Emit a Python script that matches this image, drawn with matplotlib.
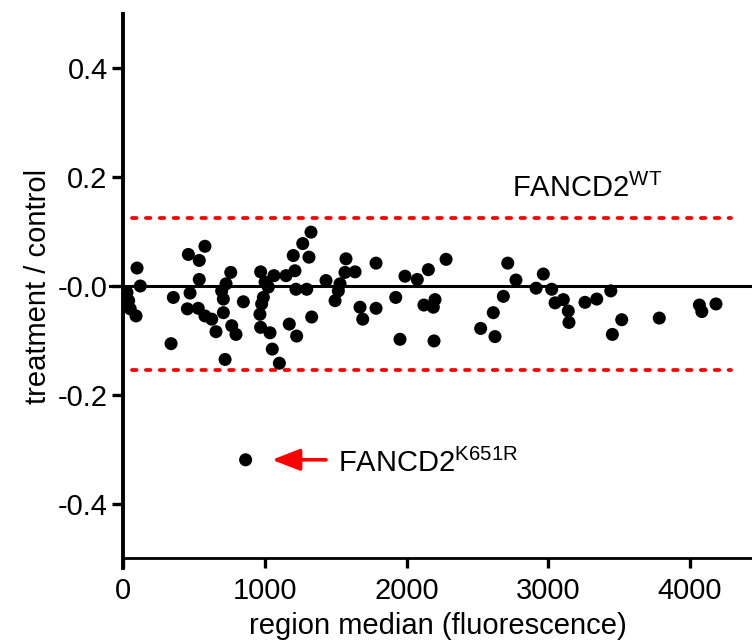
import matplotlib
matplotlib.use("Agg")
import matplotlib.pyplot as plt
from matplotlib.ticker import FixedLocator, FixedFormatter

plt.rcParams['font.family'] = ['Liberation Sans', 'DejaVu Sans']
plt.rcParams['mathtext.fontset'] = 'custom'
plt.rcParams['mathtext.rm'] = 'Liberation Sans'

# ---- data ----
region_median = [28, 40, 51, 92, 99, 122, 355, 339, 461, 578, 538, 538, 473, 454, 531,
                 578, 626, 656, 720, 760, 727, 696, 708, 708, 767, 797, 849, 971, 1002,
                 1025, 990, 978, 966, 971, 1037, 1053, 1103, 1065, 1150, 1213, 1201, 1268,
                 1326, 1312, 1220, 1296, 1173, 1225, 1331, 1432, 1496, 1573, 1566, 1637,
                 1531, 1519, 1672, 1691, 1785, 1785, 1924, 1989, 1954, 2076, 2154, 2279,
                 2123, 2201, 2189, 2194, 2523, 2624, 2612, 2683, 2772, 2714, 2914, 2965,
                 3024, 3048, 3106, 3141, 3146, 3259, 3342, 3441, 3518, 3452, 3783, 4066,
                 4083, 4183]
ratio = [-0.012, -0.027, -0.042, -0.055, 0.033, 0.000, -0.021, -0.106, 0.058, 0.073, 0.047,
         0.012, -0.013, -0.042, -0.041, -0.055, -0.061, -0.084, -0.135, 0.025, 0.004,
         -0.009, -0.024, -0.049, -0.073, -0.089, -0.029, 0.026, 0.007, -0.002, -0.021,
         -0.033, -0.052, -0.076, -0.086, -0.116, -0.142, 0.019, 0.019, 0.028, 0.056, 0.078,
         0.099, 0.053, -0.006, -0.006, -0.070, -0.092, -0.057, 0.010, -0.027, 0.050, 0.025,
         0.026, 0.004, -0.009, -0.039, -0.061, -0.041, 0.042, -0.021, 0.018, -0.098, 0.012,
         0.030, 0.049, -0.035, -0.025, -0.039, -0.101, -0.078, -0.093, -0.049, -0.019,
         0.011, 0.042, -0.004, 0.022, -0.006, -0.031, -0.025, -0.046, -0.067, -0.030,
         -0.024, -0.009, -0.062, -0.089, -0.059, -0.035, -0.047, -0.033]

outlier_x = [865]
outlier_y = [-0.3195]

upper_limit = 0.125
lower_limit = -0.154
limit_x = [60, 4290]

x_ticks = [0, 1000, 2000, 3000, 4000]
x_tick_labels = ['0', '1000', '2000', '3000', '4000']
y_ticks = [0.4, 0.2, 0.0, -0.2, -0.4]
y_tick_labels = ['0.4', '0.2', '-0.0', '-0.2', '-0.4']

wt_label = r'$\mathregular{FANCD2^{WT}}$'
mut_label = r'$\mathregular{FANCD2^{K651R}}$'

# ---- figure ----
fig = plt.figure(figsize=(7.52, 6.44), dpi=100)
ax = fig.add_axes([123 / 752, 1 - 558 / 644, 1 - 123 / 752, (558 - 14) / 644])
ax.set_xlim(0, 4437)
ax.set_ylim(-0.5, 0.5)

# zero line
ax.plot([-90, 4437], [0, 0], color='black', lw=2.2, clip_on=False, zorder=2)

# limit lines
for yv in (upper_limit, lower_limit):
    ax.plot(limit_x, [yv, yv], color='#ff0000', lw=2.7,
            linestyle=(0, (1.2, 2.5)), dash_capstyle='round', zorder=2)

# data points
ax.scatter(region_median, ratio, s=88, color='black', edgecolors='none', zorder=3)
ax.scatter(outlier_x, outlier_y, s=88, color='black', edgecolors='none', zorder=3)

# annotations
ax.text(2744, 0.164, wt_label, fontsize=21, ha='left', va='baseline')
ax.text(1517, -0.342, mut_label, fontsize=21, ha='left', va='baseline')
ax.annotate('', xy=(1051, -0.3195), xytext=(1432, -0.3195),
            arrowprops=dict(arrowstyle='-|>,head_length=0.85,head_width=0.33',
                            mutation_scale=20, color='#ff0000', lw=2.6,
                            shrinkA=0, shrinkB=0))

# axes styling
for s in ('top', 'right'):
    ax.spines[s].set_visible(False)
ax.spines['left'].set_linewidth(2.8)
ax.spines['bottom'].set_linewidth(2.0)
ax.spines['left'].set_bounds(-0.519, 0.5)

ax.xaxis.set_major_locator(FixedLocator(x_ticks))
ax.xaxis.set_major_formatter(FixedFormatter(x_tick_labels))
ax.yaxis.set_major_locator(FixedLocator(y_ticks))
ax.yaxis.set_major_formatter(FixedFormatter(y_tick_labels))
ax.tick_params(axis='y', direction='out', length=8, width=2.4, labelsize=21, pad=3)
ax.tick_params(axis='x', direction='out', length=7, width=2.4, labelsize=21, pad=7)

ax.set_xlabel('region median (fluorescence)', fontsize=21, labelpad=5)
ax.set_ylabel('treatment / control', fontsize=21, labelpad=4)

fig.savefig('out.png', dpi=100)
